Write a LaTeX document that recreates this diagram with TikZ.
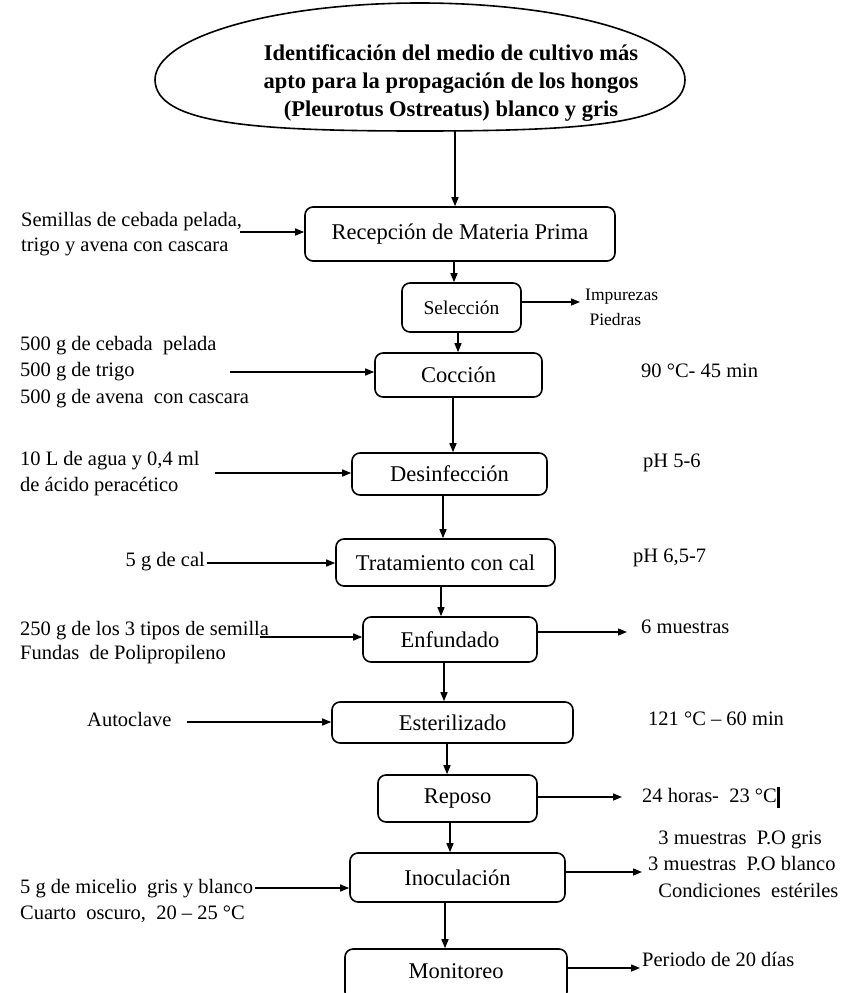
\documentclass[tikz,border=0pt]{standalone}
\usepackage{fontspec}
\setmainfont{Liberation Serif}
\usetikzlibrary{arrows.meta,shapes.geometric}
\begin{document}
\begin{tikzpicture}[x=1pt,y=-1pt,
  stepbox/.style={draw,line width=1.6pt,rounded corners=8pt,inner sep=0pt,font=\fontsize{22.5}{26}\selectfont},
  arr/.style={line width=1.4pt,-{Triangle[length=9pt,width=7pt]}},
  sidetxt/.style={anchor=west,align=left,inner sep=0pt,font=\fontsize{20.5}{25}\selectfont}]
\useasboundingbox (0,0) rectangle (841,993);
\clip (0,0) rectangle (841,993);
\fill[white] (0,0) rectangle (841,993);

% title oval (flattened at the bottom, as in the reference)
\draw[line width=1.6pt] (155,80) .. controls (155,37) and (274,3) .. (420,3)
  .. controls (566,3) and (685,37) .. (685,80)
  .. controls (684,124) and (585,131) .. (420,131)
  .. controls (255,131) and (156,124) .. (155,80) -- cycle;
\coordinate (ellbot) at (455,130.5);
\node[align=center,inner sep=0pt,font=\bfseries\fontsize{22.5}{28}\selectfont] (title) at (451,83)
  {Identificación del medio de cultivo más\\apto para la propagación de los hongos\\(Pleurotus Ostreatus) blanco y gris};

% process boxes
\node[stepbox,minimum width=310pt,minimum height=54pt] (rec) at (460,234) {Recepción de Materia Prima};
\node[stepbox,minimum width=119pt,minimum height=49pt,font=\fontsize{19.5}{24}\selectfont] (sel) at (461.5,307.5) {Selección};
\node[stepbox,minimum width=167pt,minimum height=44pt] (coc) at (458.5,375) {Cocción};
\node[stepbox,minimum width=195pt,minimum height=42pt] (des) at (449.5,474) {Desinfección};
\node[stepbox,minimum width=219pt,minimum height=47pt] (tra) at (445.5,562.5) {Tratamiento con cal};
\node[stepbox,minimum width=174pt,minimum height=45pt] (enf) at (450,639.5) {Enfundado};
\node[stepbox,minimum width=241pt,minimum height=41pt] (est) at (452.5,722.5) {Esterilizado};
\node[stepbox,minimum width=159pt,minimum height=47pt] (rep) at (457.5,798.5) {Reposo};
\node[stepbox,minimum width=215pt,minimum height=49pt] (ino) at (457.5,877.5) {Inoculación};
\node[stepbox,minimum width=222pt,minimum height=51pt,text depth=6pt] (mon) at (456,974.5) {Monitoreo};

% vertical connectors
\coordinate (v1) at (454,0);
\coordinate (v2) at (458,0);
\coordinate (v3) at (453,0);
\coordinate (v4) at (443,0);
\coordinate (v5) at (441,0);
\coordinate (v6) at (444,0);
\coordinate (v7) at (447,0);
\coordinate (v8) at (450,0);
\coordinate (v9) at (445,0);
\draw[arr] (ellbot) -- (rec.north -| ellbot);
\draw[arr] (rec.south -| v1) -- (sel.north -| v1);
\draw[arr] (sel.south -| v2) -- (coc.north -| v2);
\draw[arr] (coc.south -| v3) -- (des.north -| v3);
\draw[arr] (des.south -| v4) -- (tra.north -| v4);
\draw[arr] (tra.south -| v5) -- (enf.north -| v5);
\draw[arr] (enf.south -| v6) -- (est.north -| v6);
\draw[arr] (est.south -| v7) -- (rep.north -| v7);
\draw[arr] (rep.south -| v8) -- (ino.north -| v8);
\draw[arr] (ino.south -| v9) -- (mon.north -| v9);

% left inputs
\node[sidetxt] (in1) at (21,234.5) {Semillas de cebada pelada,\\trigo y avena con cascara};
\node[sidetxt,font=\fontsize{20.5}{26.5}\selectfont] (in2) at (20,372) {500 g de cebada\ \ pelada\\500 g de trigo\\500 g de avena\ \ con cascara};
\node[sidetxt,font=\fontsize{20.5}{26}\selectfont] (in3) at (20,474) {10 L de agua y 0,4 ml\\de ácido peracético};
\node[sidetxt,anchor=east] (in4) at (205,562) {5 g de cal};
\node[sidetxt,font=\fontsize{20.5}{24}\selectfont] (in5) at (20,643) {250 g de los 3 tipos de semilla\\Fundas\ \ de Polipropileno};
\node[sidetxt] (in6) at (87,719) {Autoclave};
\node[sidetxt,font=\fontsize{20.5}{26}\selectfont] (in7) at (20,901) {5 g de micelio\ \ gris y blanco\\Cuarto\ \ oscuro,\ \ 20 -- 25 °C};

\coordinate (a1) at (240,232);
\coordinate (a2) at (230,372);
\coordinate (a3) at (215,473);
\coordinate (a4) at (207,563);
\coordinate (a5) at (260,637);
\coordinate (a6) at (187,722);
\coordinate (a7) at (255,888);
\draw[arr] (a1) -- (rec.west |- a1);
\draw[arr] (a2) -- (coc.west |- a2);
\draw[arr] (a3) -- (des.west |- a3);
\draw[arr] (a4) -- (tra.west |- a4);
\draw[arr] (a5) -- (enf.west |- a5);
\draw[arr] (a6) -- (est.west |- a6);
\draw[arr] (a7) -- (ino.west |- a7);

% right outputs and conditions
\node[sidetxt,font=\fontsize{17.5}{25}\selectfont] (out1) at (585,307) {Impurezas\\\ Piedras};
\node[sidetxt] (c1) at (641,371) {90 °C- 45 min};
\node[sidetxt] (c2) at (643,463) {pH 5-6};
\node[sidetxt] (c3) at (633,558) {pH 6,5-7};
\node[sidetxt] (out2) at (641,627) {6 muestras};
\node[sidetxt] (c4) at (648,719) {121 °C -- 60 min};
\node[sidetxt] (out3) at (642,797) {24 horas-\ \ 23 °C\rule[-5pt]{3pt}{21pt}};
\node[sidetxt,font=\fontsize{20.5}{26.5}\selectfont] (out4) at (648,864)
  {\ \ 3 muestras\ \ P.O gris\\3 muestras\ \ P.O blanco\\\ \ Condiciones\ \ estériles};
\node[sidetxt] (out5) at (642,959) {Periodo de 20 días};

\coordinate (b1) at (580,302);
\coordinate (b2) at (627,632);
\coordinate (b3) at (622,797);
\coordinate (b4) at (642,872);
\coordinate (b5) at (640,968);
\draw[arr] (sel.east |- b1) -- (b1);
\draw[arr] (enf.east |- b2) -- (b2);
\draw[arr] (rep.east |- b3) -- (b3);
\draw[arr] (ino.east |- b4) -- (b4);
\draw[arr] (mon.east |- b5) -- (b5);
\end{tikzpicture}
\end{document}
